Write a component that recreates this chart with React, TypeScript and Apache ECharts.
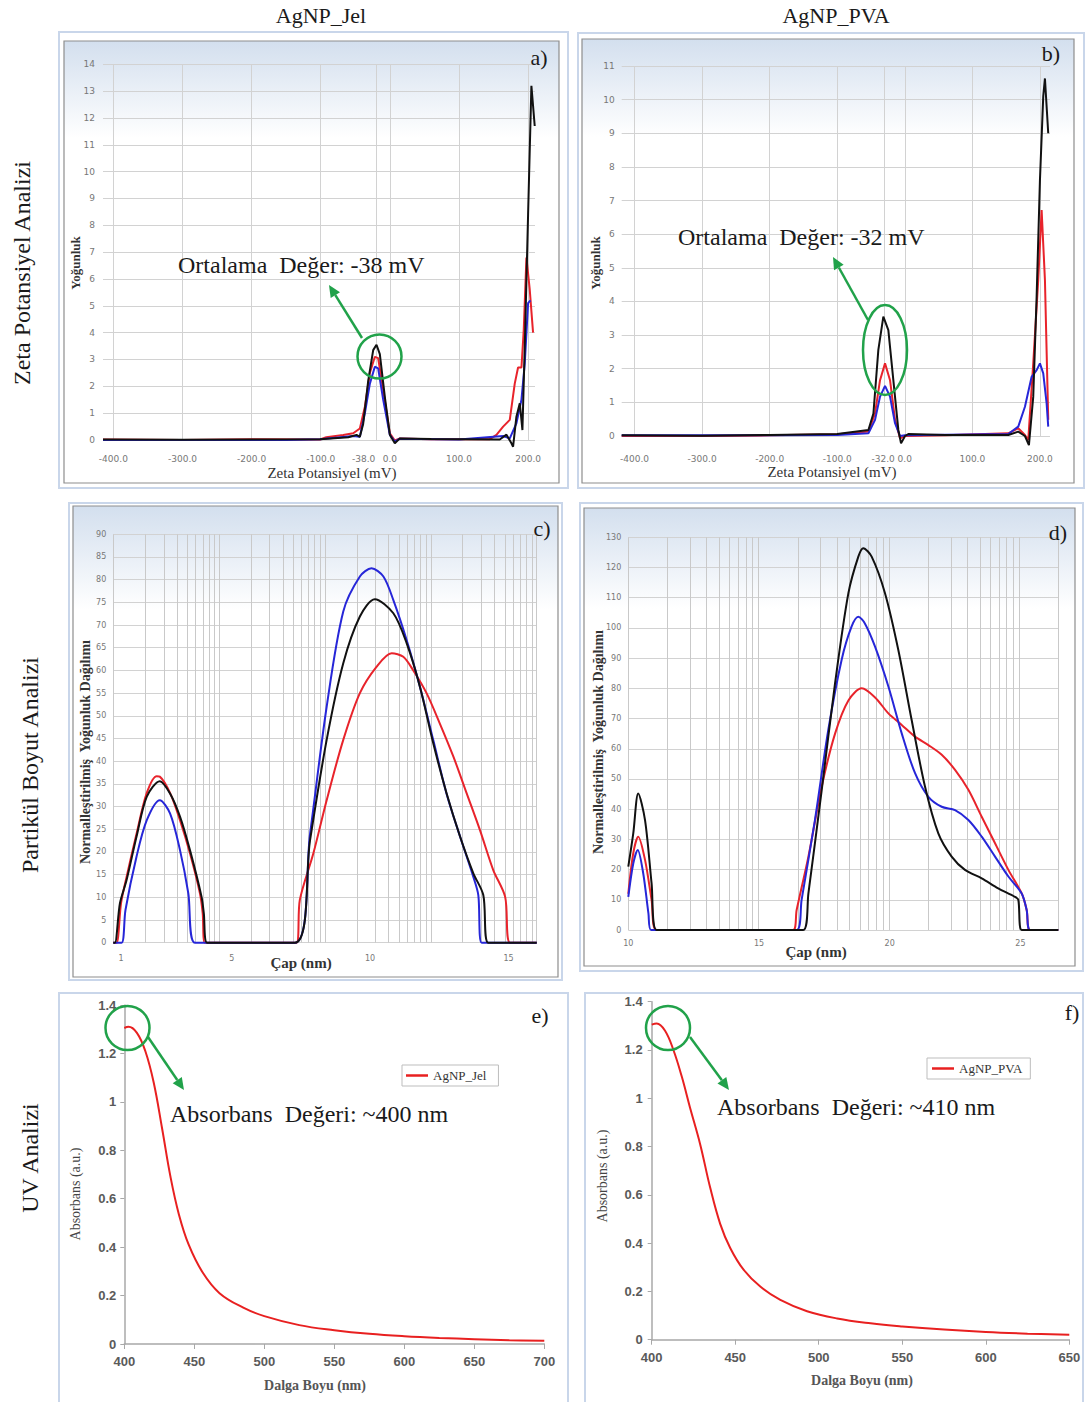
import React, { useEffect, useRef } from 'react';
import * as echarts from 'echarts';

type Pt = [number, number];

// ---------- a) Zeta potential, AgNP_Jel  (x: mV, y: Yoğunluk)
const zetaJelRed: Pt[] = [[-415,0.02],[-300,0],[-200,0.03],[-101,0.02],[-92,0.1],[-67.5,0.19],[-53,0.25],[-43.4,0.43],[-36.1,1.24],[-28.9,2.5],[-21.7,3.1],[-16.9,3.05],[-9.6,1.86],[0,0.25],[7.2,-0.02],[14.5,0.06],[60,0.03],[144.6,0.03],[154.2,0.19],[163.9,0.5],[173.5,0.75],[180.7,2.1],[185.5,2.7],[190.4,2.7],[193.7,4.1],[197.6,6.8],[202.4,5.6],[207.2,4.0]];
const zetaJelBlue: Pt[] = [[-415,0],[-150,0],[-101,0.03],[-53,0.15],[-43.4,0.12],[-36.1,1.0],[-28.9,2.1],[-21.7,2.73],[-16.9,2.67],[-9.6,1.5],[0,0.19],[7.2,-0.06],[14.5,0.05],[100,0.02],[163.9,0.15],[173.5,0.06],[183.1,0.62],[190.4,1.5],[195.2,2.86],[200,5.1],[203.4,5.2]];
const zetaJelBlack: Pt[] = [[-415,0.02],[-300,0.01],[-200,0.02],[-101,0.03],[-60,0.1],[-48.2,0.19],[-43.4,0.12],[-38.6,0.6],[-31.3,2.2],[-24.1,3.35],[-19.3,3.55],[-14.5,3.2],[-7.2,1.6],[0,0.2],[7.2,-0.12],[14.5,0.06],[60,0.04],[159,0.02],[168.7,0.2],[175.9,-0.12],[178.3,-0.25],[183.1,0.87],[188,1.37],[191.8,0.37],[195.2,3.5],[200,8.4],[204.8,13.2],[209.6,11.7]];

// ---------- b) Zeta potential, AgNP_PVA
const zetaPvaRed: Pt[] = [[-419,0],[-300,0],[-200,0.02],[-100,0.05],[-53.8,0.13],[-44,0.67],[-36.6,1.66],[-29.2,2.16],[-21.8,1.66],[-14.4,0.48],[-7,-0.07],[0.4,0],[60,0.02],[153.3,0.08],[168,0.23],[177.9,0.03],[182.8,-0.12],[190.2,2.16],[197.6,4.64],[202.6,6.72],[207.5,4.64],[212.4,0.48]];
const zetaPvaBlue: Pt[] = [[-419,0.02],[-200,0.02],[-100,0.03],[-53.8,0.08],[-44,0.48],[-36.6,1.17],[-29.2,1.49],[-21.8,1.17],[-14.4,0.38],[-7,0],[0.4,0.02],[153.3,0.06],[168,0.28],[177.9,0.87],[187.8,1.76],[195.2,1.96],[200.1,2.16],[205,1.86],[210,0.97],[212.4,0.28]];
const zetaPvaBlack: Pt[] = [[-419,0.02],[-300,0.01],[-200,0.03],[-100,0.06],[-53.8,0.18],[-46.4,0.67],[-39.1,2.56],[-31.7,3.55],[-24.3,3.15],[-16.9,1.66],[-9.5,0.18],[-5.5,-0.22],[0.4,0],[5.3,0.06],[60,0.03],[153.3,0.03],[168,0.13],[177.9,0],[183.8,-0.27],[190.2,1.17],[195.2,4.14],[200.1,7.6],[205,10.1],[207.5,10.63],[212.4,9.0]];

// ---------- c) Particle size, AgNP_Jel (x: Çap nm, y: normalised intensity)
const sizeJelRed: Pt[] = [[0.72,0],[0.84,0],[1.0,8.7],[1.2,14.5],[1.56,24],[1.93,33],[2.29,36.7],[2.4,36.6],[2.77,33],[3.13,27],[3.49,19.7],[3.85,10.9],[3.95,6.5],[4.03,0],[7.34,0],[7.46,9.4],[7.95,19.7],[8.43,31.4],[9.03,44.7],[9.63,55],[10.23,60.8],[10.78,63.8],[11.2,63],[11.56,60],[12.04,55],[12.52,48.3],[13.01,41],[13.49,32.9],[13.97,24.8],[14.45,16],[14.88,10.1],[15.06,0],[16.02,0]];
const sizeJelBlue: Pt[] = [[0.72,0],[1.02,0],[1.16,7.2],[1.56,19],[1.93,27],[2.4,31.4],[2.77,28.5],[3.13,20.4],[3.43,10.9],[3.67,0],[7.28,0],[7.83,24],[8.43,52],[9.03,73],[9.63,80.7],[10.05,82.5],[10.48,80.7],[10.84,75.5],[11.32,66.7],[11.8,56.4],[12.28,44.7],[12.76,32.9],[13.25,23.4],[13.73,14.5],[13.91,10.5],[14.03,0],[16.02,0]];
const sizeJelBlack: Pt[] = [[0.72,0],[0.78,0],[0.96,8.7],[1.2,13.8],[1.56,23.4],[1.93,32.2],[2.4,35.6],[2.77,32.9],[3.13,27.8],[3.49,20.4],[3.91,10.1],[3.99,6.5],[4.11,0],[7.28,0],[7.83,22.6],[8.43,44.7],[9.03,61.6],[9.63,71.9],[10.17,75.7],[10.84,72.6],[11.32,66],[11.8,56.4],[12.28,44],[12.76,33],[13.25,23.4],[13.73,15.3],[14.09,10.5],[14.27,0],[16.02,0]];

// ---------- d) Particle size, AgNP_PVA
const sizePvaRed: Pt[] = [[10,12],[10.19,25.4],[10.38,30.9],[10.64,23.2],[10.89,10],[11.08,0],[16.31,0],[16.44,6.6],[16.89,24.3],[17.4,47.5],[17.91,65],[18.42,76],[18.93,80],[19.44,77],[19.95,71.7],[20.46,67.9],[20.97,64],[21.48,61.2],[21.99,58],[22.5,53],[23.01,46.4],[23.52,37.5],[24.03,28.7],[24.54,19.9],[25.05,12.1],[25.24,6.6],[25.37,0],[26.45,0]];
const sizePvaBlue: Pt[] = [[10,11],[10.19,22],[10.36,26.5],[10.57,18.8],[10.77,5.5],[10.87,0],[16.44,0],[16.63,10],[17.14,36.4],[17.65,66.2],[18.16,89.4],[18.54,100.4],[18.8,103.7],[19.05,101.5],[19.44,93.8],[19.95,80.6],[20.46,65.1],[20.97,51.9],[21.48,44.1],[21.99,40.8],[22.5,39.7],[23.01,36.4],[23.52,30.9],[24.03,24.3],[24.54,17.7],[25.05,12.1],[25.24,6.6],[25.37,0],[26.45,0]];
const sizePvaBlack: Pt[] = [[10,21],[10.19,32],[10.38,45.2],[10.64,36.4],[10.89,15.5],[11.08,0],[16.69,0],[16.89,12.1],[17.4,46.4],[17.91,81.7],[18.42,111.5],[18.8,123.6],[18.99,126.4],[19.31,123.6],[19.82,111.5],[20.33,92.7],[20.84,69.5],[21.35,47.5],[21.86,32],[22.37,24.3],[22.88,19.9],[23.52,17.1],[24.15,13.8],[24.79,11],[24.92,10],[25.05,0],[26.45,0]];

// ---------- e/f) UV absorbance (x: nm, y: a.u.)
const uvJel: Pt[] = [[400,1.305],[403,1.31],[409,1.285],[415,1.21],[421,1.08],[427,0.89],[433,0.69],[439,0.535],[446,0.41],[456,0.295],[468,0.21],[485,0.15],[500,0.115],[525,0.078],[550,0.057],[575,0.042],[600,0.032],[625,0.025],[650,0.02],[675,0.016],[700,0.013]];
const uvPva: Pt[] = [[400,1.305],[403,1.31],[408,1.28],[413,1.2],[418,1.09],[423,0.96],[429,0.81],[435,0.63],[441,0.48],[447,0.38],[455,0.29],[465,0.22],[477,0.165],[493,0.118],[511,0.088],[531,0.068],[550,0.055],[575,0.042],[600,0.032],[625,0.025],[650,0.02]];

// ---------- tick labels / grid positions
const zetaLabelsJel = [-400, -300, -200, -100, -38, 0, 100, 200];
const zetaGridJel = [-400, -300, -200, -100, -20, 0, 100, 200];
const zetaLabelsPva = [-400, -300, -200, -100, -32, 0, 100, 200];
const zetaGridPva = [-400, -300, -200, -100, -30, 0, 100, 200];
const sizeLabelsJel = [1, 5, 10, 15];
const sizeLabelsPva = [10, 15, 20, 25];

const SERIF = "'Liberation Serif', 'Times New Roman', serif";
const SANS = "'DejaVu Sans', sans-serif";
const RED = '#e8232b';
const BLUE = '#2626d8';
const BLACK = '#111111';
const GREEN = '#21a24a';
const GRIDC = '#d2d2d2';

function txt(text: string, x: number, y: number, size: number, o: any = {}) {
  return {
    type: 'text', x, y, rotation: o.rot || 0, z: 100, silent: true,
    style: {
      text, fontSize: size, fontFamily: o.family || SERIF, fontWeight: o.weight || 'normal',
      fill: o.color || '#1a1a1a', align: o.align || 'center', verticalAlign: 'middle',
    },
  };
}

function arrow(x1: number, y1: number, x2: number, y2: number) {
  const a = Math.atan2(y2 - y1, x2 - x1);
  const L = 12, W = 5.5;
  const bx = x2 - L * Math.cos(a), by = y2 - L * Math.sin(a);
  const px = -Math.sin(a) * W, py = Math.cos(a) * W;
  return [
    { type: 'line', z: 100, silent: true, shape: { x1, y1, x2: bx, y2: by }, style: { stroke: GREEN, lineWidth: 2.5 } },
    { type: 'polygon', z: 100, silent: true, shape: { points: [[x2, y2], [bx + px, by + py], [bx - px, by - py]] }, style: { fill: GREEN } },
  ];
}

function ell(cx: number, cy: number, rx: number, ry: number) {
  return { type: 'ellipse', z: 100, silent: true, shape: { cx, cy, rx, ry }, style: { fill: 'none', stroke: GREEN, lineWidth: 2.5 } };
}

function panelFrame(o: number[], inner?: number[]) {
  const els: any[] = [
    { type: 'rect', z: -5, silent: true, shape: { x: o[0], y: o[1], width: o[2], height: o[3] }, style: { fill: '#fff', stroke: '#c9d6ea', lineWidth: 2 } },
  ];
  if (inner) {
    els.push({
      type: 'rect', z: -4, silent: true,
      shape: { x: inner[0], y: inner[1], width: inner[2], height: inner[3] },
      style: {
        fill: new echarts.graphic.LinearGradient(0, 0, 0, 1, [
          { offset: 0, color: '#d3dfee' }, { offset: 0.22, color: '#ffffff' }, { offset: 1, color: '#ffffff' },
        ]),
        stroke: '#8e8e8e', lineWidth: 1.2,
      },
    });
  }
  return els;
}

function zetaX(gridIndex: number, min: number, max: number, labels: number[], grid: number[], margin: number) {
  return {
    type: 'value', gridIndex, min, max,
    axisLine: { show: false },
    axisTick: { show: false, customValues: grid },
    axisLabel: { customValues: labels, formatter: (v: number) => v.toFixed(1), fontSize: 9, color: '#777', fontFamily: SANS, margin, hideOverlap: false },
    splitLine: { show: true, lineStyle: { color: GRIDC, width: 1 } },
  };
}

function valY(gridIndex: number, min: number, max: number, interval: number, margin: number, size = 9) {
  return {
    type: 'value', gridIndex, min, max, interval,
    axisLine: { show: false }, axisTick: { show: false },
    axisLabel: { fontSize: size, color: '#777', fontFamily: SANS, margin },
    splitLine: { show: true, lineStyle: { color: GRIDC, width: 1 } },
  };
}

function sizeX(gridIndex: number, min: number, max: number, labels: number[], margin: number) {
  return {
    type: 'value', gridIndex, min, max,
    axisLine: { show: false }, axisTick: { show: false },
    axisLabel: { customValues: labels, fontSize: 8, color: '#777', fontFamily: SANS, margin, hideOverlap: false },
    splitLine: { show: false },
  };
}

function logX(gridIndex: number, max: number) {
  return {
    type: 'log', logBase: 10, gridIndex, min: 1, max, position: 'top',
    axisLine: { show: false }, axisTick: { show: false }, axisLabel: { show: false },
    minorTick: { show: false, splitNumber: 9 },
    splitLine: { show: true, lineStyle: { color: '#c9c9c9', width: 1 } },
    minorSplitLine: { show: true, lineStyle: { color: '#c9c9c9', width: 1 } },
  };
}

function uvX(gridIndex: number, max: number) {
  return {
    type: 'value', gridIndex, min: 400, max, interval: 50,
    axisLine: { show: true, lineStyle: { color: '#a8a8a8', width: 1.5 } },
    axisTick: { show: true, length: 5, lineStyle: { color: '#a8a8a8' } },
    axisLabel: { fontSize: 13, fontWeight: 'bold', color: '#5a5a5a', fontFamily: "'Liberation Sans', sans-serif", margin: 11 },
    splitLine: { show: false },
  };
}

function uvY(gridIndex: number, margin: number) {
  return {
    type: 'value', gridIndex, min: 0, max: 1.4, interval: 0.2,
    axisLine: { show: true, lineStyle: { color: '#a8a8a8', width: 1.5 } },
    axisTick: { show: true, length: 4, lineStyle: { color: '#a8a8a8' } },
    axisLabel: { fontSize: 13, fontWeight: 'bold', color: '#5a5a5a', fontFamily: "'Liberation Sans', sans-serif", margin },
    splitLine: { show: false },
  };
}

function line(data: Pt[], color: string, xi: number, yi: number, width: number, smooth: number, name?: string) {
  return {
    type: 'line', name, data, xAxisIndex: xi, yAxisIndex: yi, showSymbol: false, symbol: 'none',
    smooth, clip: false, lineStyle: { color, width }, itemStyle: { color }, z: 3,
  };
}

function buildOption(): any {
  const graphics: any[] = [
    ...panelFrame([59, 32, 509, 456], [64, 41, 495, 442]),
    ...panelFrame([578, 33, 506, 455], [582, 39, 492, 444]),
    ...panelFrame([69, 503, 493, 477], [73, 506, 485, 471]),
    ...panelFrame([580, 503, 503, 468], [584, 508, 491, 458]),
    ...panelFrame([59, 993, 509, 412]),
    ...panelFrame([585, 993, 498, 412]),

    txt('AgNP_Jel', 321, 15, 22),
    txt('AgNP_PVA', 836, 15, 22),
    txt('Zeta Potansiyel Analizi', 22, 273, 24, { rot: Math.PI / 2 }),
    txt('Partikül Boyut Analizi', 30, 765, 24, { rot: Math.PI / 2 }),
    txt('UV Analizi', 30, 1158, 24, { rot: Math.PI / 2 }),

    txt('a)', 539, 57, 22), txt('b)', 1051, 53, 22), txt('c)', 542, 528, 22),
    txt('d)', 1058, 532, 22), txt('e)', 540, 1015, 22), txt('f)', 1072, 1012, 22),

    txt('Yoğunluk', 75, 263, 13, { rot: Math.PI / 2, weight: 'bold', color: '#333' }),
    txt('Zeta Potansiyel (mV)', 332, 473, 15, { color: '#333' }),
    txt('Yoğunluk', 595, 263, 13, { rot: Math.PI / 2, weight: 'bold', color: '#333' }),
    txt('Zeta Potansiyel (mV)', 832, 472, 15, { color: '#333' }),
    txt('Normalleştirilmiş  Yoğunluk Dağılımı', 85, 752, 14, { rot: Math.PI / 2, weight: 'bold', color: '#333' }),
    txt('Çap (nm)', 301, 963, 15, { weight: 'bold', color: '#333' }),
    txt('Normalleştirilmiş  Yoğunluk Dağılımı', 598, 742, 14, { rot: Math.PI / 2, weight: 'bold', color: '#333' }),
    txt('Çap (nm)', 816, 952, 15, { weight: 'bold', color: '#333' }),
    txt('Absorbans (a.u.)', 75, 1194, 14, { rot: Math.PI / 2, color: '#444' }),
    txt('Dalga Boyu (nm)', 315, 1385, 14, { weight: 'bold', color: '#555' }),
    txt('Absorbans (a.u.)', 602, 1176, 14, { rot: Math.PI / 2, color: '#444' }),
    txt('Dalga Boyu (nm)', 862, 1380, 14, { weight: 'bold', color: '#555' }),

    txt('Ortalama  Değer: -38 mV', 178, 265, 24, { align: 'left' }),
    txt('Ortalama  Değer: -32 mV', 678, 237, 24, { align: 'left' }),
    txt('Absorbans  Değeri: ~400 nm', 170, 1114, 24, { align: 'left' }),
    txt('Absorbans  Değeri: ~410 nm', 717, 1107, 24, { align: 'left' }),

    ell(379.5, 356.5, 22, 22), ...arrow(362, 338, 329, 285),
    ell(885, 350, 22, 45), ...arrow(868, 320, 833, 257),
    ell(127.5, 1028, 22, 22), ...arrow(148, 1037, 184, 1090),
    ell(668, 1028, 22, 22), ...arrow(690, 1037, 729, 1090),
  ];

  return {
    animation: false,
    backgroundColor: '#ffffff',
    grid: [
      { left: 103, top: 64.3, width: 432, height: 375.7 },
      { left: 621.7, top: 66, width: 428.3, height: 370 },
      { left: 113.3, top: 534.3, width: 423.4, height: 408.4 },
      { left: 628.3, top: 537.3, width: 430, height: 392.7 },
      { left: 124.3, top: 1005, width: 420, height: 339 },
      { left: 651.7, top: 1001.7, width: 417.6, height: 338 },
    ],
    xAxis: [
      zetaX(0, -415, 210, zetaLabelsJel, zetaGridJel, 14),
      zetaX(1, -419, 215, zetaLabelsPva, zetaGridPva, 18),
      sizeX(2, 0.72, 16.02, sizeLabelsJel, 12),
      logX(2, 10000),
      sizeX(3, 10, 26.45, sizeLabelsPva, 9),
      logX(3, 2000),
      uvX(4, 700),
      uvX(5, 650),
    ],
    yAxis: [
      valY(0, 0, 14, 1, 8),
      valY(1, 0, 11, 1, 7),
      valY(2, 0, 90, 5, 7, 8),
      valY(3, 0, 130, 10, 7, 8),
      uvY(4, 8),
      uvY(5, 9),
    ],
    legend: [
      {
        data: ['AgNP_Jel'], left: 402, top: 1065, icon: 'rect', itemWidth: 22, itemHeight: 2.5,
        borderColor: '#bdbdbd', borderWidth: 1, padding: [4, 12, 4, 4], backgroundColor: '#fff',
        textStyle: { fontFamily: SERIF, fontSize: 13, color: '#333' },
      },
      {
        data: ['AgNP_PVA'], left: 927, top: 1058, icon: 'rect', itemWidth: 22, itemHeight: 2.5,
        borderColor: '#bdbdbd', borderWidth: 1, padding: [4, 8, 4, 5], backgroundColor: '#fff',
        textStyle: { fontFamily: SERIF, fontSize: 13, color: '#333' },
      },
    ],
    series: [
      line(zetaJelRed, RED, 0, 0, 2, 0),
      line(zetaJelBlue, BLUE, 0, 0, 2, 0),
      line(zetaJelBlack, BLACK, 0, 0, 2, 0),
      line(zetaPvaRed, RED, 1, 1, 2, 0),
      line(zetaPvaBlue, BLUE, 1, 1, 2, 0),
      line(zetaPvaBlack, BLACK, 1, 1, 2, 0),
      line(sizeJelRed, RED, 2, 2, 2, 0.3),
      line(sizeJelBlue, BLUE, 2, 2, 2, 0.3),
      line(sizeJelBlack, BLACK, 2, 2, 2, 0.3),
      line(sizePvaRed, RED, 4, 3, 2, 0.3),
      line(sizePvaBlue, BLUE, 4, 3, 2, 0.3),
      line(sizePvaBlack, BLACK, 4, 3, 2, 0.3),
      line(uvJel, '#e82020', 6, 4, 2, 0.4, 'AgNP_Jel'),
      line(uvPva, '#e82020', 7, 5, 2, 0.4, 'AgNP_PVA'),
    ],
    graphic: { elements: graphics },
  };
}

export default function App() {
  const ref = useRef<HTMLDivElement>(null);
  useEffect(() => {
    const chart = echarts.init(ref.current!, null, { renderer: 'svg' });
    chart.setOption(buildOption());
    return () => chart.dispose();
  }, []);
  return (
    <div
      ref={ref}
      style={{ position: 'absolute', left: 0, top: 0, width: 1085, height: 1402, background: '#fff' }}
    />
  );
}
